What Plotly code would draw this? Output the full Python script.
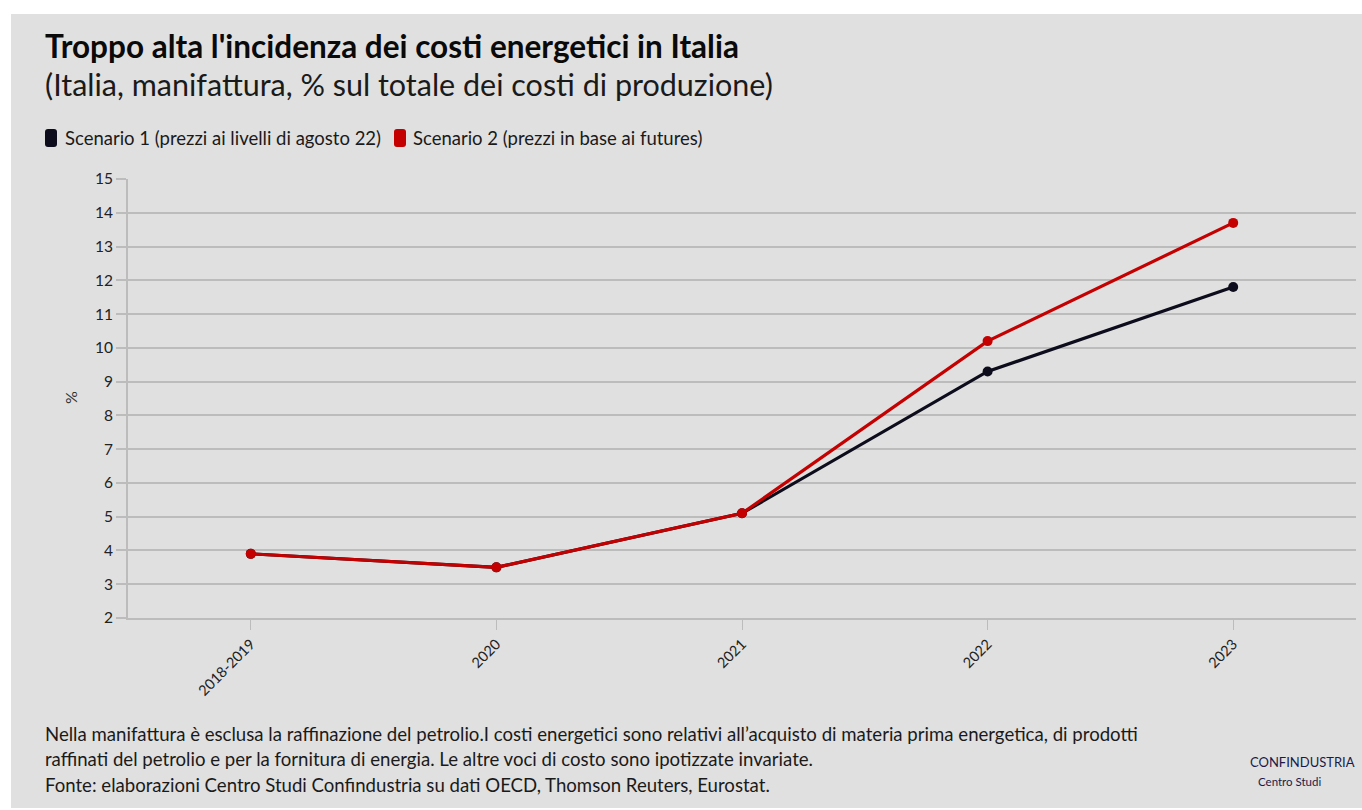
import plotly.graph_objects as go

categories = ["2018-2019", "2020", "2021", "2022", "2023"]
scenario1 = [3.9, 3.5, 5.1, 9.3, 11.8]
scenario2 = [3.9, 3.5, 5.1, 10.2, 13.7]
y_ticks = list(range(2, 16))

name1 = "Scenario 1 (prezzi ai livelli di agosto 22)"
name2 = "Scenario 2 (prezzi in base ai futures)"
title = "Troppo alta l'incidenza dei costi energetici in Italia"
subtitle = "(Italia, manifattura, % sul totale dei costi di produzione)"
footer = [
    "Nella manifattura è esclusa la raffinazione del petrolio.I costi energetici sono relativi all’acquisto di materia prima energetica, di prodotti",
    "raffinati del petrolio e per la fornitura di energia. Le altre voci di costo sono ipotizzate invariate.",
    "Fonte: elaborazioni Centro Studi Confindustria su dati OECD, Thomson Reuters, Eurostat.",
]

BLACK = "#0c0c1c"
RED = "#c40000"
GRID = "#bcbcbc"
BG = "#e0e0e0"
NAVY = "#1a1a4a"
FONT = "Lato"

W, H = 1362, 810
L, R, T, B = 128, 6, 179, 192
PW = W - L - R
PH = H - T - B


def px(x):
    return (x - L) / PW


def py(y):
    return (H - B - y) / PH


fig = go.Figure()
fig.add_trace(go.Scatter(x=categories, y=scenario1, mode="lines+markers", name=name1,
                         line=dict(color=BLACK, width=3.2), marker=dict(size=10, color=BLACK),
                         showlegend=False))
fig.add_trace(go.Scatter(x=categories, y=scenario2, mode="lines+markers", name=name2,
                         line=dict(color=RED, width=3.2), marker=dict(size=10, color=RED),
                         showlegend=False))


def rounded(x0, y0, x1, y1, r, color):
    X0, X1 = px(x0), px(x1)
    Y0, Y1 = py(y1), py(y0)  # paper bottom, top
    rx, ry = r / PW, r / PH
    path = (f"M {X0+rx},{Y0} L {X1-rx},{Y0} Q {X1},{Y0} {X1},{Y0+ry} "
            f"L {X1},{Y1-ry} Q {X1},{Y1} {X1-rx},{Y1} L {X0+rx},{Y1} "
            f"Q {X0},{Y1} {X0},{Y1-ry} L {X0},{Y0+ry} Q {X0},{Y0} {X0+rx},{Y0} Z")
    return dict(type="path", xref="paper", yref="paper", path=path,
                fillcolor=color, line=dict(width=0))


shapes = [
    dict(type="rect", xref="paper", yref="paper", x0=px(11), x1=px(1362), y0=py(808), y1=py(14),
         fillcolor=BG, line=dict(width=0), layer="below"),
    rounded(45, 129, 57, 147, 3, BLACK),
    rounded(394, 129, 406, 147, 3, RED),
]

ann = [
    dict(text="<b>" + title + "</b>", x=px(43), y=py(46), font=dict(size=31.5, color="#0a0a0a")),
    dict(text=subtitle, x=px(43), y=py(84), font=dict(size=30.5, color="#1a1a1a")),
    dict(text=name1, x=px(63), y=py(138), font=dict(size=18.5, color="#1a1a1a")),
    dict(text=name2, x=px(411), y=py(138), font=dict(size=18.5, color="#1a1a1a")),
    dict(text="%", x=px(70), y=py(398), textangle=-90, xanchor="center", font=dict(size=16, color="#333")),
    dict(text=footer[0], x=px(43), y=py(734), font=dict(size=18.6, color="#1a1a1a")),
    dict(text=footer[1], x=px(43), y=py(759), font=dict(size=18.6, color="#1a1a1a")),
    dict(text=footer[2], x=px(43), y=py(785), font=dict(size=18.6, color="#1a1a1a")),
    dict(text="CONFINDUSTRIA", x=px(1248), y=py(762), font=dict(size=13, color=NAVY)),
    dict(text="Centro Studi", x=px(1256), y=py(781), font=dict(size=11.5, color=NAVY)),
]
for a in ann:
    a.setdefault("xanchor", "left")
    a.update(xref="paper", yref="paper", yanchor="middle", showarrow=False)

fig.update_layout(
    width=W, height=H,
    margin=dict(l=L, r=R, t=T, b=B),
    paper_bgcolor="white", plot_bgcolor=BG,
    font=dict(family=FONT, color="#333"),
    shapes=shapes, annotations=ann,
    xaxis=dict(type="category", range=[-0.5, 4.5], showgrid=False, showline=True, linecolor=GRID,
               linewidth=2, ticks="outside", ticklen=10, tickcolor=GRID, tickwidth=1,
               tickangle=-45, tickfont=dict(size=14.5, color="#222"), zeroline=False),
    yaxis=dict(range=[2, 15], tickvals=y_ticks, showgrid=True, gridcolor=GRID, gridwidth=2,
               showline=True, linecolor=GRID, linewidth=2, ticks="outside", ticklen=10,
               tickcolor=GRID, tickwidth=2, tickfont=dict(size=15.5, color="#222"), zeroline=False),
)

fig.write_html("out.html")
